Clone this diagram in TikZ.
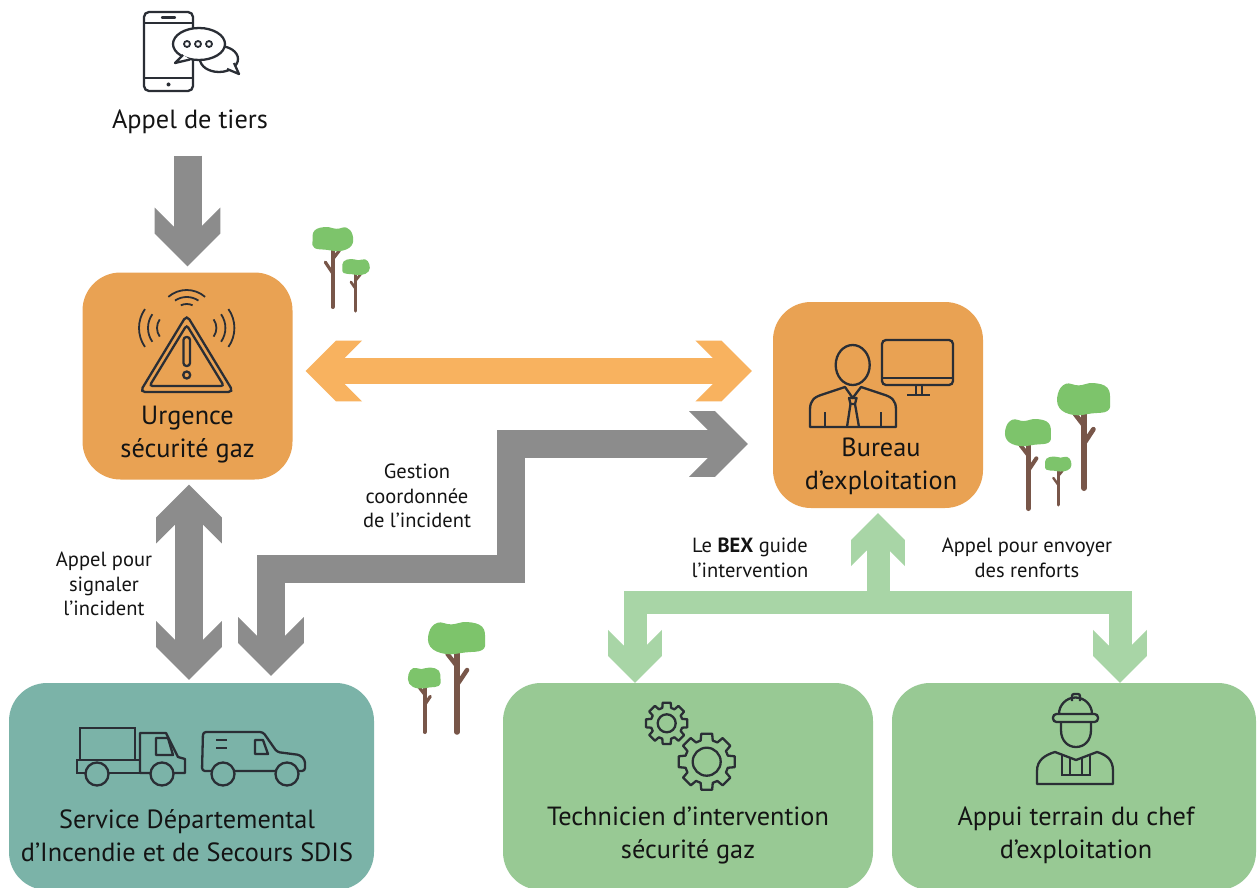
\documentclass[tikz,border=0pt]{standalone}
\usepackage{fontspec}
\setmainfont{PT Sans}
\usetikzlibrary{arrows.meta}

\definecolor{orangebox}{HTML}{E9A253}
\definecolor{orangearrow}{HTML}{F8B25F}
\definecolor{tealbox}{HTML}{7BB3A8}
\definecolor{greenbox}{HTML}{98C994}
\definecolor{greenarrow}{HTML}{A8D5A6}
\definecolor{grayarrow}{HTML}{8C8C8C}
\definecolor{ink}{HTML}{2A2E35}
\definecolor{txt}{HTML}{141414}
\definecolor{leaf}{HTML}{7DC46B}
\definecolor{bark}{HTML}{785649}

% wide flat arrow head, sized from the line width
\newdimen\fathalf \newdimen\fathead \newdimen\fatback \newdimen\fatnotch
\pgfdeclarearrow{
  name = Fat,
  parameters = {\the\pgflinewidth},
  setup code = {
    \fathalf=.5\pgflinewidth
    \fathead=1.17\pgflinewidth
    \fatback=\fathead \advance\fatback by 26pt
    \fatnotch=\fathalf \advance\fatnotch by 26pt
    \pgfarrowssettipend{0pt}
    \pgfarrowssetlineend{-\fathead}
    \pgfarrowssetbackend{-\fatback}
    \pgfarrowshullpoint{0pt}{0pt}
    \pgfarrowsupperhullpoint{-\fatback}{\fathead}
    \pgfarrowssavethe\fathalf
    \pgfarrowssavethe\fathead
    \pgfarrowssavethe\fatback
    \pgfarrowssavethe\fatnotch
  },
  drawing code = {
    \pgfpathmoveto{\pgfpointorigin}
    \pgfpathlineto{\pgfqpoint{-\fathead}{\fathead}}
    \pgfpathlineto{\pgfqpoint{-\fatback}{\fathead}}
    \pgfpathlineto{\pgfqpoint{-\fatnotch}{\fathalf}}
    \pgfpathlineto{\pgfqpoint{-\fatnotch}{-\fathalf}}
    \pgfpathlineto{\pgfqpoint{-\fatback}{-\fathead}}
    \pgfpathlineto{\pgfqpoint{-\fathead}{-\fathead}}
    \pgfpathclose
    \pgfusepathqfill
  }
}

\tikzstyle{box} = [rectangle, rounded corners=38pt, minimum width=210pt, minimum height=207pt, inner sep=0pt]
\tikzstyle{boxtext} = [align=center, font=\fontsize{26.3}{33}\selectfont, text=txt]
\tikzstyle{note} = [align=center, font=\fontsize{20.5}{24.5}\selectfont, text=txt]
\tikzstyle{icon} = [draw=ink, line width=2.3pt]
\tikzstyle{fat} = [line width=28pt, line join=miter, >=Fat]

% crown centre x, y, crown width, crown height, trunk length, trunk width, side
\newcommand{\tree}[7]{%
  \begin{scope}[shift={(#1,#2)}, xscale=#7]
    \draw[bark, line width=#6, line cap=round] (0,0) -- (0,#5);
    \draw[bark, line width=0.8*#6, line cap=round] (0,{0.5*#5}) -- ({-0.18*#3},{0.34*#5});
    \draw[bark, line width=0.8*#6, line cap=round] (0,{0.3*#5}) -- ({0.17*#3},{0.17*#5});
    \fill[leaf, xscale=0.5*#3, yscale=0.5*#4] plot[smooth cycle, tension=0.7] coordinates
      {(-1,0.15) (-0.9,-0.7) (-0.35,-1) (0.2,-0.85) (0.7,-0.95) (1,-0.35) (0.95,0.55) (0.4,1) (-0.3,0.9) (-0.9,0.75)};
  \end{scope}}

% gear: centre x, y, body radius, tooth radius, hole radius
\newcommand{\gear}[5]{%
  \begin{scope}[shift={(#1,#2)}]
    \draw[icon, line join=round] (-16:#3) \foreach \a in {0,45,...,315} {
      -- ({\a-16}:#3) -- ({\a-11}:#4) -- ({\a+11}:#4) -- ({\a+16}:#3)} -- cycle;
    \draw[icon] (0,0) circle (#5);
  \end{scope}}

\begin{document}
\begin{tikzpicture}[x=1pt, y=-1pt]

\fill[white] (0,0) rectangle (1258,888);
\useasboundingbox (0,0) rectangle (1258,888);

% boxes
\node (urgence) [box, fill=orangebox] at (187.5,376) {};
\node (bureau) [box, fill=orangebox, minimum height=206pt] at (878,405) {};
\node (sdis) [box, fill=tealbox, minimum width=365pt] at (191.5,786.5) {};
\node (tech) [box, fill=greenbox, minimum width=370pt] at (688,786.5) {};
\node (appui) [box, fill=greenbox, minimum width=364pt] at (1074,786.5) {};

\node (tiers) [boxtext] at (190,122) {Appel de tiers};
\node (urgencetxt) [boxtext] at (187.5,435) {Urgence\\sécurité gaz};
\node (bureautxt) [boxtext] at (881,466) {Bureau\\d’exploitation};
\node (sdistxt) [boxtext] at (187,836) {Service Départemental\\d’Incendie et de Secours SDIS};
\node (techtxt) [boxtext] at (688,835) {Technicien d’intervention\\sécurité gaz};
\node (appuitxt) [boxtext] at (1076,835) {Appui terrain du chef\\d’exploitation};

\node (signaler) [note] at (104,584) {Appel pour\\signaler\\l’incident};
\node (gestion) [note] at (417,496) {Gestion\\coordonnée\\de l’incident};
\node (guide) [note] at (750,558) {Le \textbf{BEX} guide\\l’intervention};
\node (renforts) [note] at (1027,558) {Appel pour envoyer\\des renforts};

% arrows
\coordinate (gbend) at (511,569);
\coordinate (gsplit) at (878,602);

\draw [fat, grayarrow, ->, shorten <=18pt, shorten >=6pt] (tiers.south -| urgence.north) -- (urgence.north);
\draw [fat, line width=26pt, orangearrow, <->, shorten <=13pt, shorten >=21pt] ([yshift=5pt]urgence.east) -- ([yshift=5pt]urgence.east -| bureau.west);
\draw [fat, grayarrow, <->, shorten <=5pt, shorten >=3pt] ([xshift=1.5pt]urgence.south) -- ([xshift=1.5pt]urgence.south |- sdis.north);
\draw [fat, grayarrow, <->] ([shift={(-25pt,-39pt)}]bureau.west) -| (gbend) -| ([shift={(79.5pt,7pt)}]sdis.north);
\draw [fat, line width=23pt, greenarrow, <->] ([xshift=-53pt]tech.north) |- (gsplit) -| ([xshift=46pt]appui.north);
\draw [fat, line width=23pt, greenarrow, ->, shorten >=5pt] (gsplit) -- (bureau.south);

% phone with chat bubbles
\draw[icon, rounded corners=5pt] (144,12) rectangle (193,91);
\draw[icon] (144,23) -- (193,23);
\draw[icon] (144,78) -- (193,78);
\draw[icon, line cap=round] (162,17.5) -- (175,17.5);
\fill[ink] (168.5,84.5) circle (2pt);
\draw[icon, fill=white] (219,59) ellipse (19 and 13);
\draw[icon, fill=white, line join=round] (227,69) -- (239,74) -- (234,63);
\draw[icon, fill=white] (199,44) ellipse (26 and 16);
\draw[icon, fill=white, line join=round] (183,55) -- (175,63) -- (190,59.5);
\foreach \dx in {187,198,209} \draw[icon, line width=1.8pt] (\dx,44) circle (3);

% warning sign
\draw[icon, rounded corners=5pt] (186.7,315) -- (140,392) -- (233.4,392) -- cycle;
\draw[icon, rounded corners=3pt] (186.7,325) -- (149.5,386) -- (223.9,386) -- cycle;
\draw[icon, rounded corners=3pt] (183.5,337) rectangle (190,366);
\draw[icon] (186.7,375) circle (3.5);
\foreach \r/\s in {14/25,21/34,28/41}
  \draw[icon, line width=1.8pt] (186.7,318) ++({270-\s}:\r) arc[start angle=270-\s, end angle=270+\s, radius=\r];
\foreach \r in {15,24,33} {
  \draw[icon, line width=1.8pt] (172,328) ++(145:\r) arc[start angle=145, end angle=215, radius=\r];
  \draw[icon, line width=1.8pt] (201.4,328) ++(-35:\r) arc[start angle=-35, end angle=35, radius=\r];
}

% person at a screen
\draw[icon] (852.7,365) ellipse (17 and 20);
\draw[icon, line join=round] (810,427) -- (810,410) .. controls (810,400) and (814,397) .. (824,394) -- (845,387) -- (852.7,398) -- (861,387) -- (882,394) .. controls (892,397) and (896,400) .. (896,410) -- (896,427) -- cycle;
\draw[icon, line join=round] (849,398) -- (856.5,398) -- (855,404) -- (850.5,404) -- cycle;
\draw[icon] (850.5,404) -- (847,427);
\draw[icon] (855,404) -- (859,427);
\draw[icon] (825,412) -- (825,427);
\draw[icon] (881,412) -- (881,427);
\draw[icon, rounded corners=4pt] (882,340) rectangle (953,385);
\draw[icon] (882,378) -- (953,378);
\draw[icon] (916,385) -- (916,395);
\draw[icon] (922,385) -- (922,395);
\draw[icon] (907,395) -- (930,395);

% truck and van
\draw[icon] (80,728) rectangle (135,760);
\draw[icon] (77,760) rectangle (140,773);
\draw[icon, line join=round] (140,773) -- (140,733) -- (166,733) -- (178,757) -- (185,759) -- (185,773) -- cycle;
\draw[icon, line join=round] (156,738) -- (168,738) -- (173,755) -- (156,755) -- cycle;
\draw[icon, fill=tealbox] (97,774) circle (11.5);
\draw[icon, fill=tealbox] (162,774) circle (11.5);
\draw[icon, line join=round, rounded corners=3pt] (203,732) -- (263,732) -- (277,752) -- (300,755) -- (305,760) -- (305,771) -- (202,771) -- cycle;
\draw[icon, line join=round] (255,740) -- (263,740) -- (268,754) -- (255,754) -- cycle;
\draw[icon] (216,740) -- (227,740);
\draw[icon] (216,748) -- (227,748);
\draw[icon, fill=tealbox] (223,774) circle (11.5);
\draw[icon, fill=tealbox] (287,774) circle (11.5);

% gears
\gear{666.7}{723.3}{16}{21}{9}
\gear{706.7}{761.7}{22}{28.5}{14}

% worker with helmet
\draw[icon, rounded corners=2pt] (1072,701) -- (1072,694) -- (1080,694) -- (1080,701);
\draw[icon] (1059,714) arc[start angle=180, end angle=360, radius=16.5];
\draw[icon, rounded corners=3.5pt] (1053,714) rectangle (1098,722);
\draw[icon] (1061,722) -- (1061,730) .. controls (1061,741) and (1068,747) .. (1076,747) .. controls (1084,747) and (1091,741) .. (1091,730) -- (1091,722);
\draw[icon, line join=round] (1037,784) -- (1037,771) .. controls (1037,760) and (1045,755) .. (1055,752) -- (1076,760) -- (1097,752) .. controls (1107,755) and (1113,760) .. (1113,771) -- (1113,784) -- cycle;
\draw[icon] (1062,755) -- (1062,775) -- (1090,775) -- (1090,755);
\draw[icon] (1070,758) -- (1070,775);
\draw[icon] (1082,758) -- (1082,775);

% trees
\tree{332.5}{239}{40}{24}{68}{4pt}{1}
\tree{355.8}{267}{27}{16}{44}{3.3pt}{1}
\tree{1084}{399}{52}{32}{89}{6pt}{-1}
\tree{1028.3}{432.5}{45}{27}{76}{5pt}{-1}
\tree{1058}{464}{26}{15}{41}{3pt}{1}
\tree{457}{638}{56}{32}{94}{5.5pt}{-1}
\tree{424.5}{678}{32}{21}{54}{4pt}{-1}

\end{tikzpicture}
\end{document}
